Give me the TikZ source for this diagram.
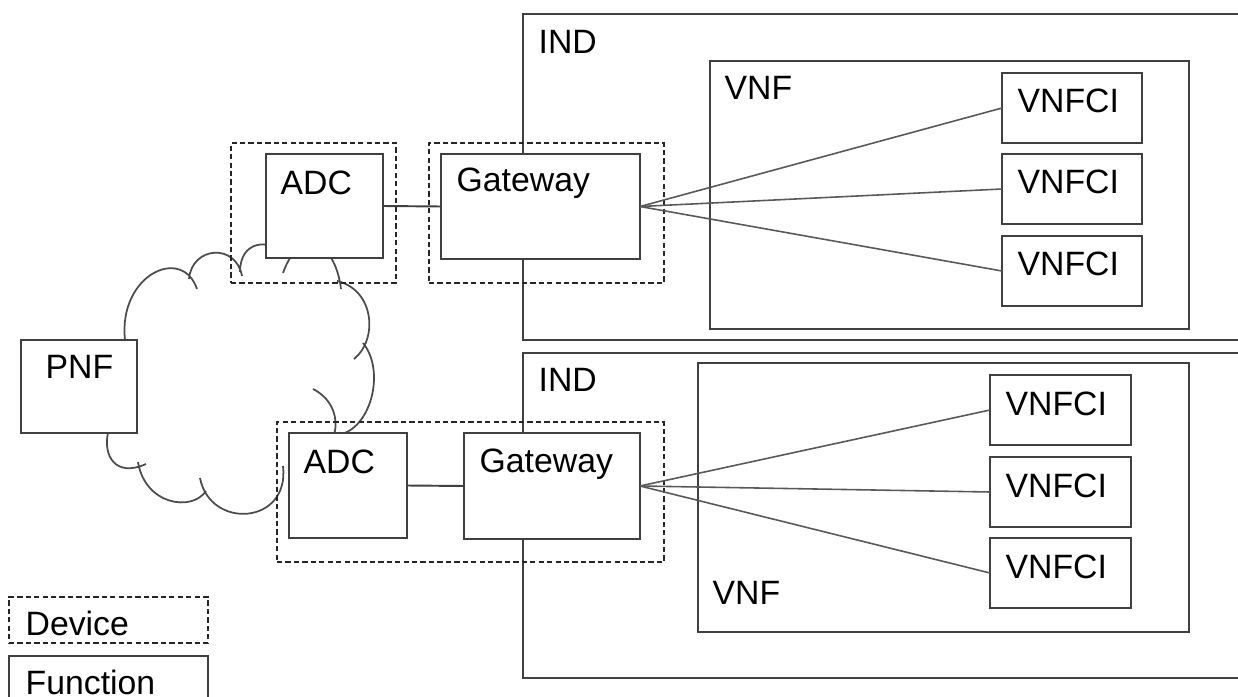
\documentclass[tikz,border=0pt]{standalone}
\usepackage{fontspec}
\setmainfont{Liberation Sans}
\usetikzlibrary{positioning}
\usetikzlibrary{fit}

\begin{document}
\begin{tikzpicture}[x=0.01cm,y=-0.01cm,
                box/.style={draw=black!75,line width=0.6pt,inner sep=0pt,outer sep=0pt},
                func node/.style={box,fill=white},
                device node/.style={box,draw=black!85,line width=0.7pt,dash pattern=on 1.5pt off 0.9pt},
                link/.style={draw=black!75,line width=0.55pt},
                fan/.style={draw=black!65,line width=0.45pt},
                cloud line/.style={draw=black!70,line width=0.5pt},
                label node/.style={inner sep=0pt,anchor=base west,font=\fontsize{9.6}{11}\selectfont}]

  \useasboundingbox (0,0) rectangle (1238,697);
  \clip (0,0) rectangle (1238,697);

  \path[cloud line]
    (125,340) .. controls (118,275) and (182,245) .. (197,289)
    (189,279) .. controls (192,246) and (236,243) .. (242,276)
    (240,272) .. controls (240,240) and (270,238) .. (285,255)
    (283,273) .. controls (300,225) and (335,240) .. (341,289)
    (337,281) .. controls (375,290) and (378,340) .. (354,359)
    (363,343) .. controls (385,370) and (372,425) .. (342,434)
    (313,389) .. controls (345,405) and (345,450) .. (300,470)
    (283,466) .. controls (290,525) and (210,530) .. (200,478)
    (206,491) .. controls (192,512) and (145,505) .. (138,462)
    (146,464) .. controls (115,478) and (103,455) .. (108,433);

  \node[func node, fit={(523,14) (1260,340)}] (ind1) {};
  \node[func node, fit={(523,353) (1260,678)}] (ind2) {};
  \node[func node, fit={(710,61) (1189,329)}] (vnf1) {};
  \node[func node, fit={(698,363) (1189,632)}] (vnf2) {};

  \node[device node, fit={(231,143) (396,283)}] (dev1) {};
  \node[device node, fit={(429,143) (664,283)}] (dev2) {};
  \node[device node, fit={(277,422) (664,562)}] (dev3) {};

  \node[func node, fit={(21,340) (137,433)}] (pnf) {};
  \node[func node, fit={(266,154) (383,258)}] (adc1) {};
  \node[func node, fit={(441,154) (640,259)}] (gw1) {};
  \node[func node, fit={(289,433) (407,538)}] (adc2) {};
  \node[func node, fit={(464,433) (640,539)}] (gw2) {};

  \node[func node, fit={(1002,73) (1142,143)}] (ci1) {};
  \node[func node, fit={(1002,154) (1142,224)}] (ci2) {};
  \node[func node, fit={(1002,236) (1142,306)}] (ci3) {};
  \node[func node, fit={(990,375) (1131,445)}] (ci4) {};
  \node[func node, fit={(990,457) (1131,527)}] (ci5) {};
  \node[func node, fit={(990,538) (1131,608)}] (ci6) {};

  \node[device node, fit={(9,597) (208,643)}] (legdev) {};
  \node[func node, fit={(9,656) (208,720)}] (legfunc) {};

  \path[link]
    (adc1.east) edge (gw1.west)
    (adc2.east) edge (gw2.west);
  \path[fan]
    (gw1.east) edge (ci1.west)
    (gw1.east) edge (ci2.west)
    (gw1.east) edge (ci3.west)
    (gw2.east) edge (ci4.west)
    (gw2.east) edge (ci5.west)
    (gw2.east) edge (ci6.west);

  \node[label node] (ind1t) at (538,54) {IND};
  \node[label node] (vnf1t) at (724,100) {VNF};
  \node[label node] (ci1t) at (1017,113) {VNFCI};
  \node[label node] (ci2t) at (1017,193) {VNFCI};
  \node[label node] (ci3t) at (1017,275) {VNFCI};
  \node[label node] (adc1t) at (280,195) {ADC};
  \node[label node] (gw1t) at (456,192) {Gateway};
  \node[label node] (ind2t) at (538,392) {IND};
  \node[label node] (vnf2t) at (712,604) {VNF};
  \node[label node] (ci4t) at (1005,416) {VNFCI};
  \node[label node] (ci5t) at (1005,497) {VNFCI};
  \node[label node] (ci6t) at (1005,578) {VNFCI};
  \node[label node] (adc2t) at (303,473) {ADC};
  \node[label node] (gw2t) at (479,472) {Gateway};
  \node[label node] (pnft) at (45,379) {PNF};
  \node[label node] (legdevt) at (25,635) {Device};
  \node[label node] (legfunct) at (25,695) {Function};

\end{tikzpicture}
\end{document}
